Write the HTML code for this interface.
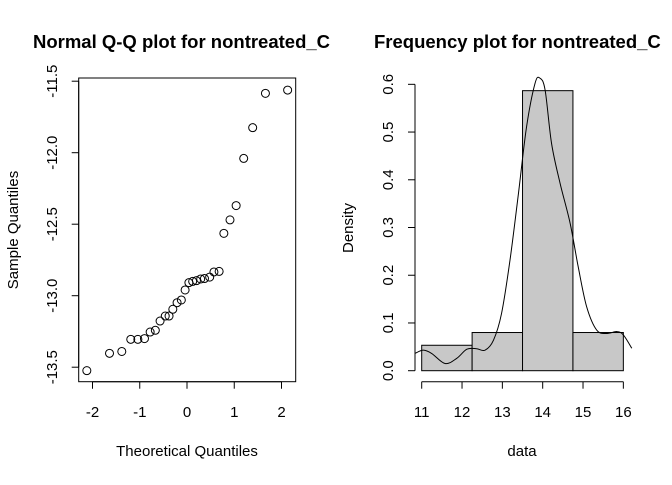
<!DOCTYPE html>
<html><head><meta charset="utf-8"><style>
body{margin:0;background:#fff;width:672px;height:480px;overflow:hidden}
svg text{font-family:"Liberation Sans",Arial,sans-serif;fill:#000}
</style></head><body>
<svg id="c" width="672" height="480">
<defs>
<clipPath id="clipL"><rect x="0" y="0" width="336" height="480"/></clipPath>
<clipPath id="clipR"><rect x="336" y="0" width="336" height="480"/></clipPath>
</defs>
<text x="33" y="48" font-size="18.5" font-weight="bold" clip-path="url(#clipL)">Normal Q-Q plot for nontreated_C</text>
<text x="374" y="48" font-size="18.5" font-weight="bold" clip-path="url(#clipR)">Frequency plot for nontreated_C</text>
<text x="187" y="456" font-size="15" text-anchor="middle">Theoretical Quantiles</text>
<text transform="translate(18,230) rotate(-90)" font-size="15" text-anchor="middle">Sample Quantiles</text>
<text x="522" y="456" font-size="15" text-anchor="middle">data</text>
<text transform="translate(353,228) rotate(-90)" font-size="15" text-anchor="middle">Density</text>
<rect x="78.7" y="78" width="217" height="303.7" fill="none" stroke="#000" stroke-width="1"/>
<g id="gL"></g><g id="gR"></g>
</svg>
<script>
const qqX=[-2.12,-1.64,-1.38,-1.19,-1.04,-0.90,-0.78,-0.67,-0.57,-0.46,-0.38,-0.30,-0.21,-0.12,-0.04,0.04,0.12,0.20,0.29,0.37,0.48,0.57,0.68,0.78,0.91,1.04,1.20,1.39,1.66,2.13];
const qqY=[-13.524,-13.403,-13.39,-13.305,-13.305,-13.30,-13.254,-13.242,-13.177,-13.142,-13.142,-13.095,-13.049,-13.03,-12.96,-12.909,-12.90,-12.895,-12.883,-12.88,-12.87,-12.834,-12.83,-12.564,-12.47,-12.37,-12.04,-11.825,-11.585,-11.562];
const qqXTicks=[-2,-1,0,1,2];
const qqYTicks=[-11.5,-12.0,-12.5,-13.0,-13.5];
const binEdges=[11,12.25,13.5,14.75,16];
const binDensity=[0.0533,0.08,0.5867,0.08];
const histXTicks=[11,12,13,14,15,16];
const histYTicks=[0,0.1,0.2,0.3,0.4,0.5,0.6];
const densX=[10.83,11.04,11.25,11.58,11.87,12.12,12.36,12.57,12.78,12.98,13.19,13.40,13.60,13.81,13.93,14.06,14.22,14.43,14.68,14.88,15.09,15.34,15.59,15.84,16.0,16.21];
const densY=[0.036,0.043,0.036,0.015,0.026,0.045,0.046,0.043,0.064,0.12,0.232,0.372,0.511,0.602,0.613,0.588,0.476,0.393,0.309,0.218,0.134,0.085,0.078,0.082,0.075,0.047];

const NS='http://www.w3.org/2000/svg';
function mk(p,t,a){const e=document.createElementNS(NS,t);for(const k in a)e.setAttribute(k,a[k]);p.appendChild(e);return e;}
const xL=v=>187+v*47.25, yL=v=>295.7-(v+13)*143;
const xR=v=>421.7+(v-11)*40.33, yR=v=>370.7-v*477.3;
const gL=document.getElementById('gL'), gR=document.getElementById('gR');

let ax=mk(gL,'line',{x1:xL(-2),x2:xL(2),y1:381.7,y2:381.7,stroke:'#000'});


qqXTicks.forEach(t=>{
  const l=mk(gL,'line',{x1:xL(t),x2:xL(t),y1:381.7,y2:388.7,stroke:'#000'});
  
  
  const tx=mk(gL,'text',{x:xL(t),y:417,'font-size':15,'text-anchor':'middle'});tx.textContent=t;
  
  
});
let ay=mk(gL,'line',{x1:78.7,x2:78.7,y1:yL(-11.5),y2:yL(-13.5),stroke:'#000'});


qqYTicks.forEach(t=>{
  const l=mk(gL,'line',{x1:71.7,x2:78.7,y1:yL(t),y2:yL(t),stroke:'#000'});
  
  
  const tx=mk(gL,'text',{transform:`translate(57,${yL(t)}) rotate(-90)`,'font-size':15,'text-anchor':'middle'});tx.textContent=t.toFixed(1);
  
  
});
qqX.forEach((v,i)=>{
  const c=mk(gL,'circle',{cx:xL(v),cy:yL(qqY[i]),r:4,fill:'none',stroke:'#000','stroke-width':1});
  
  
});

binDensity.forEach((d,i)=>{
  const r=mk(gR,'rect',{x:xR(binEdges[i]),y:yR(d),width:xR(binEdges[i+1])-xR(binEdges[i]),height:yR(0)-yR(d),fill:'#c8c8c8',stroke:'#000','stroke-width':1});
  
  
});
let hx=mk(gR,'line',{x1:xR(11),x2:xR(16),y1:381.7,y2:381.7,stroke:'#000'});


histXTicks.forEach(t=>{
  const l=mk(gR,'line',{x1:xR(t),x2:xR(t),y1:381.7,y2:388.7,stroke:'#000'});
  
  
  const tx=mk(gR,'text',{x:xR(t),y:417,'font-size':15,'text-anchor':'middle'});tx.textContent=t;
  
  
});
let hy=mk(gR,'line',{x1:415,x2:415,y1:yR(0),y2:yR(0.6),stroke:'#000'});


histYTicks.forEach(t=>{
  const l=mk(gR,'line',{x1:408,x2:415,y1:yR(t),y2:yR(t),stroke:'#000'});
  
  
  const tx=mk(gR,'text',{transform:`translate(393,${yR(t)}) rotate(-90)`,'font-size':15,'text-anchor':'middle'});tx.textContent=t.toFixed(1);
  
  
});
const pts=densX.map((v,i)=>[xR(v),yR(densY[i])]);
let d=`M${pts[0][0]},${pts[0][1]}`;
for(let i=0;i<pts.length-1;i++){
  const p0=pts[Math.max(0,i-1)],p1=pts[i],p2=pts[i+1],p3=pts[Math.min(pts.length-1,i+2)];
  d+=` C${p1[0]+(p2[0]-p0[0])/6},${p1[1]+(p2[1]-p0[1])/6} ${p2[0]-(p3[0]-p1[0])/6},${p2[1]-(p3[1]-p1[1])/6} ${p2[0]},${p2[1]}`;
}
const cp=mk(gR,'path',{d:d,fill:'none',stroke:'#000','stroke-width':1});


</script>
</body></html>
